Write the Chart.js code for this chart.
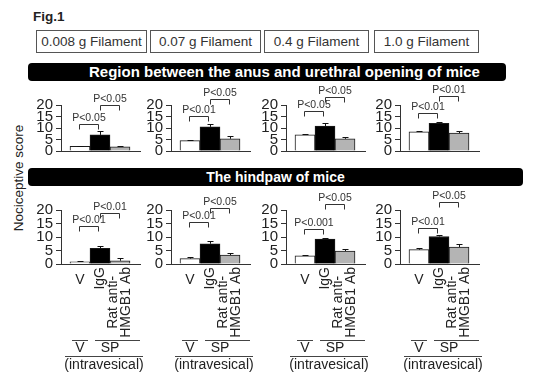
<!DOCTYPE html>
<html>
<head>
<meta charset="utf-8">
<script src="https://cdn.jsdelivr.net/npm/chart.js@4"></script>
<style>
  body { margin: 0; background: #fff; font-family: "Liberation Sans", Arial, sans-serif; color: #222; }
  #fig { position: relative; width: 540px; height: 385px; overflow: hidden; }
  .abs { position: absolute; }
  .fil { position: absolute; top: 30px; height: 21px; border: 1px solid #555; font-size: 13.5px; line-height: 21px; text-align: center; color: #333; white-space: nowrap; }
  .banner { position: absolute; height: 18px; background: #000; border-radius: 4px; color: #fff; font-weight: bold; font-size: 14px; line-height: 18px; white-space: nowrap; }
  canvas { position: absolute; }
</style>
</head>
<body>
<div id="fig">
  <div class="abs" style="left:33px;top:10px;font-size:13.5px;font-weight:bold;line-height:13px;">Fig.1</div>
  <div id="filaments"></div>
  <div class="banner" style="left:28px;top:63px;width:478px;"><span id="region0" class="abs" style="left:61px;font-size:15px;"></span></div>
  <div class="banner" style="left:28px;top:168px;width:495px;text-align:center;"><span id="region1"></span></div>
  <div class="abs" style="left:18px;top:178px;width:0;height:0;">
    <div style="position:absolute;transform:translate(-50%,-50%) rotate(-90deg);white-space:nowrap;font-size:13.5px;line-height:13px;">Nociceptive score</div>
  </div>
</div>
<script>
// categories and labels
const filaments = ['0.008 g Filament', '0.07 g Filament', '0.4 g Filament', '1.0 g Filament'];
const regions = ['Region between the anus and urethral opening of mice', 'The hindpaw of mice'];
const groups = ['V', 'IgG', ['Rat anti-', 'HMGB1 Ab']];
const yTicks = [0, 5, 10, 15, 20];

// region between the anus and urethral opening (one row per filament: V, IgG, anti-HMGB1)
const anusMean = [[2.0, 7.0, 1.8], [4.5, 10.5, 5.3], [7.0, 10.8, 5.3], [8.3, 12.0, 7.8]];
const anusSem = [[0.3, 1.8, 0.4], [0.5, 1.3, 1.1], [0.3, 1.2, 0.6], [0.6, 0.5, 1.0]];
const anusP = [['P<0.05', 'P<0.05'], ['P<0.01', 'P<0.05'], ['P<0.05', 'P<0.05'], ['P<0.01', 'P<0.01']];
const anusBracket = [[11.9, 20.0], [15.2, 22.6], [17.4, 23.3], [16.7, 24.0]];

// hindpaw
const pawMean = [[0.8, 5.8, 1.2], [2.0, 7.5, 3.3], [3.0, 9.2, 4.8], [5.3, 10.2, 6.3]];
const pawSem = [[0.3, 0.7, 1.0], [0.7, 1.0, 0.9], [0.3, 0.6, 0.7], [0.8, 0.4, 1.0]];
const pawP = [['P<0.01', 'P<0.01'], ['P<0.01', 'P<0.05'], ['P<0.001', 'P<0.05'], ['P<0.01', 'P<0.05']];
const pawBracket = [[14.1, 18.9], [15.6, 20.7], [13.0, 22.2], [13.3, 23.0]];

const FONT = '"Liberation Sans", Arial, sans-serif';
const barColors = ['#ffffff', '#000000', '#b4b4b4'];

// filament boxes and banners
const boxes = [[36, 147], [150, 261], [264, 369], [374, 479]];
const filDiv = document.getElementById('filaments');
filaments.forEach((f, i) => {
    const d = document.createElement('div');
    d.className = 'fil';
    d.style.left = boxes[i][0] + 'px';
    d.style.width = (boxes[i][1] - boxes[i][0] - 2) + 'px';
    d.textContent = f;
    filDiv.appendChild(d);
});
document.getElementById('region0').textContent = regions[0];
document.getElementById('region1').textContent = regions[1];

// error bars, significance brackets and the group labels under the bottom row
const marks = {
    id: 'marks',
    afterDatasetsDraw(chart, args, opts) {
        const ctx = chart.ctx;
        const y = chart.scales.y;
        const bars = chart.getDatasetMeta(0).data;
        const vals = chart.data.datasets[0].data;
        ctx.save();
        ctx.lineWidth = 1;
        ctx.strokeStyle = '#111';

        // upper error bars
        bars.forEach((bar, i) => {
            const x = Math.round(bar.x) + 0.5;
            const y1 = y.getPixelForValue(vals[i].y);
            const y2 = Math.round(y.getPixelForValue(vals[i].y + opts.sem[i])) + 0.5;
            ctx.beginPath();
            ctx.moveTo(x, y1);
            ctx.lineTo(x, y2);
            ctx.moveTo(x - 3, y2);
            ctx.lineTo(x + 3, y2);
            ctx.stroke();
        });

        // brackets
        ctx.strokeStyle = '#333';
        ctx.fillStyle = '#333';
        ctx.font = '10.5px ' + FONT;
        ctx.textAlign = 'center';
        ctx.textBaseline = 'alphabetic';
        [[0, 1, -1, -2], [1, 2, 0, -1]].forEach(([a, b, da, db], k) => {
            const xa = Math.round(bars[a].x) + da + 0.5;
            const xb = Math.round(bars[b].x) + db + 0.5;
            const yt = Math.round(y.getPixelForValue(opts.bracket[k])) + 0.5;
            ctx.beginPath();
            ctx.moveTo(xa, yt + 5);
            ctx.lineTo(xa, yt);
            ctx.lineTo(xb, yt);
            ctx.lineTo(xb, yt + 5);
            ctx.stroke();
            ctx.fillText(opts.p[k], (xa + xb) / 2, yt - 4);
        });

        if (opts.labels) {
            const base = y.getPixelForValue(0);
            const c = bars.map(b => Math.round(b.x));
            ctx.fillStyle = '#222';
            ctx.strokeStyle = '#444';
            ctx.font = '14px ' + FONT;
            ctx.textBaseline = 'middle';
            ctx.textAlign = 'center';
            ctx.fillText(groups[0], c[0], base + 16);
            [1, 2].forEach(i => {
                const lines = [].concat(groups[i]);
                const w = Math.max(...lines.map(l => ctx.measureText(l).width));
                ctx.save();
                ctx.translate(c[i], base + 3 + w / 2);
                ctx.rotate(-Math.PI / 2);
                lines.forEach((l, j) => ctx.fillText(l, 0, (j - (lines.length - 1) / 2) * 13));
                ctx.restore();
            });
            // treatment groups
            const hl = (x1, x2, yy) => {
                ctx.beginPath();
                ctx.moveTo(x1, Math.round(yy) + 0.5);
                ctx.lineTo(x2, Math.round(yy) + 0.5);
                ctx.stroke();
            };
            hl(c[0] - 8, c[0] + 8, base + 76);
            hl(c[1] - 5, c[2] + 20, base + 76);
            ctx.fillText('V', c[0], base + 84);
            ctx.fillText('SP', (c[1] + c[2]) / 2, base + 84);
            hl(c[0] - 15, c[2] + 23, base + 92);
            ctx.fillText('(intravesical)', (c[0] + c[2]) / 2 + 4, base + 101);
        }
        ctx.restore();
    }
};

const axisX = [61, 171, 286, 400];
const rowTop = [105, 210];  // pixel of the 20 tick in each row

function makePanel(row, i, means, sem, bracket, p) {
    const labelled = row === 1;
    const cv = document.createElement('canvas');
    const w = 121, h = labelled ? 200 : 90;
    cv.width = w; cv.height = h;
    cv.style.left = (axisX[i] - 36) + 'px';
    cv.style.top = (rowTop[row] - 32) + 'px';
    document.getElementById('fig').appendChild(cv);

    new Chart(cv, {
        type: 'bar',
        data: {
            datasets: [{
                data: means.map((v, k) => ({ x: k + 1, y: v })),
                backgroundColor: barColors,
                borderColor: '#1a1a1a',
                borderWidth: 1,
                barThickness: 20
            }]
        },
        options: {
            responsive: false,
            animation: false,
            events: [],
            layout: { padding: { top: 32, bottom: h - 86, left: 0, right: 6 } },
            plugins: {
                legend: { display: false },
                tooltip: { enabled: false },
                marks: { sem: sem, bracket: bracket, p: p, labels: labelled }
            },
            scales: {
                x: {
                    type: 'linear',
                    offset: false,
                    min: 0.05,
                    max: 4,
                    ticks: { display: false },
                    grid: { display: false },
                    border: { color: '#333', width: 1 },
                    afterFit: s => { s.height = 0; }
                },
                y: {
                    min: 0,
                    max: 20,
                    afterBuildTicks: s => { s.ticks = yTicks.map(v => ({ value: v })); },
                    ticks: { color: '#222', padding: 3, autoSkip: false, font: { family: FONT, size: 15 } },
                    grid: { drawOnChartArea: false, tickLength: 5, color: '#333' },
                    border: { color: '#333', width: 1 },
                    afterFit: s => { s.width = 36; }
                }
            }
        },
        plugins: [marks]
    });
}

for (let i = 0; i < 4; i++) {
    makePanel(0, i, anusMean[i], anusSem[i], anusBracket[i], anusP[i]);
    makePanel(1, i, pawMean[i], pawSem[i], pawBracket[i], pawP[i]);
}
</script>
</body>
</html>
